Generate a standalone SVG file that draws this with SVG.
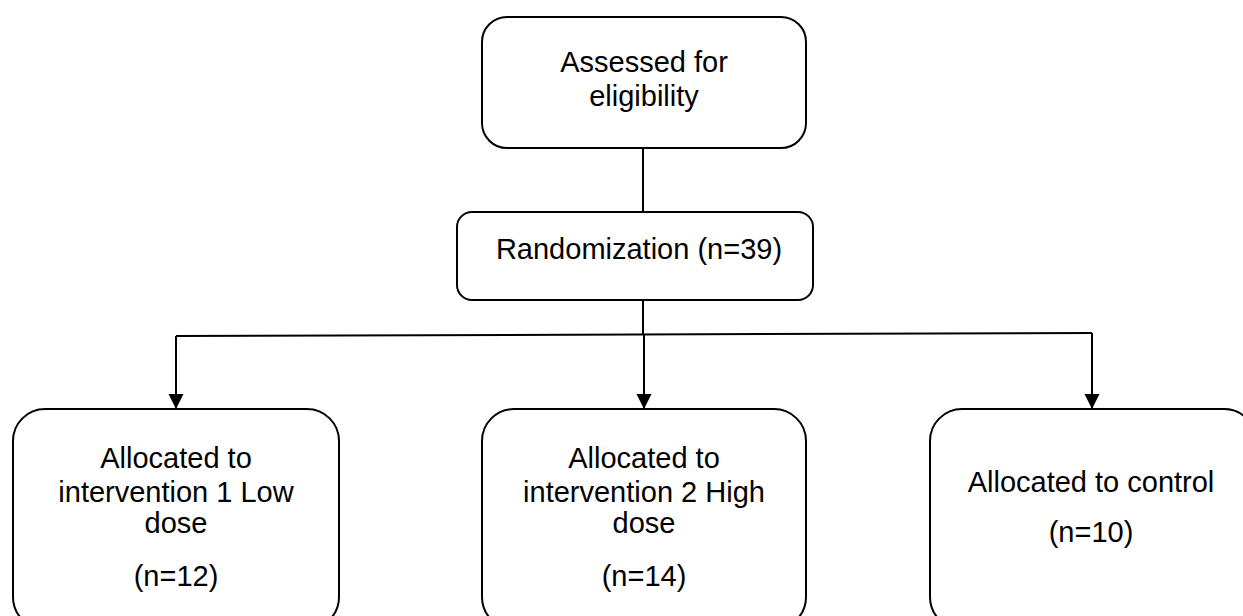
<svg xmlns="http://www.w3.org/2000/svg" width="1243" height="616" viewBox="0 0 1243 616">
<style>
.box{fill:#fff;stroke:#000;stroke-width:2}
.t{font-family:"Liberation Sans",Arial,sans-serif;font-size:29px;fill:#000;text-anchor:middle}
.ln{fill:none;stroke:#000;stroke-width:2}
</style>
<defs>
<marker id="ah" markerUnits="userSpaceOnUse" markerWidth="16" markerHeight="16" viewBox="0 0 16 16" refX="15" refY="7.5" orient="auto">
<path d="M0,0 L15,7.5 L0,15 Z" fill="#000"/>
</marker>
</defs>
<rect width="1243" height="616" fill="#fff"/>
<g id="connectors">
<path class="ln" d="M643,148 V212"/>
<path class="ln" d="M643,300 V335"/>
<path class="ln" d="M176,336 L1092,333"/>
<path class="ln" d="M176,336 V409" marker-end="url(#ah)"/>
<path class="ln" d="M644,335 V409" marker-end="url(#ah)"/>
<path class="ln" d="M1092,333 V409" marker-end="url(#ah)"/>
</g>
<g id="n-assessed">
<rect class="box" x="482" y="17" width="324" height="131" rx="25"/>
<text class="t" x="644" y="72">Assessed for</text>
<text class="t" x="644" y="106">eligibility</text>
</g>
<g id="n-random">
<rect class="box" x="457" y="212" width="356" height="88" rx="15"/>
<text class="t" x="639" y="259">Randomization (n=39)</text>
</g>
<g id="n-low">
<rect class="box" x="13" y="409" width="326" height="220" rx="32"/>
<text class="t" x="176" y="468">Allocated to</text>
<text class="t" x="176" y="502">intervention 1 Low</text>
<text class="t" x="176" y="533">dose</text>
<text class="t" x="176" y="586">(n=12)</text>
</g>
<g id="n-high">
<rect class="box" x="482" y="409" width="324" height="220" rx="32"/>
<text class="t" x="644" y="468">Allocated to</text>
<text class="t" x="644" y="502">intervention 2 High</text>
<text class="t" x="644" y="533">dose</text>
<text class="t" x="644" y="586">(n=14)</text>
</g>
<g id="n-control">
<rect class="box" x="930" y="409" width="326" height="220" rx="32"/>
<text class="t" x="1091" y="492">Allocated to control</text>
<text class="t" x="1091" y="542">(n=10)</text>
</g>
</svg>
